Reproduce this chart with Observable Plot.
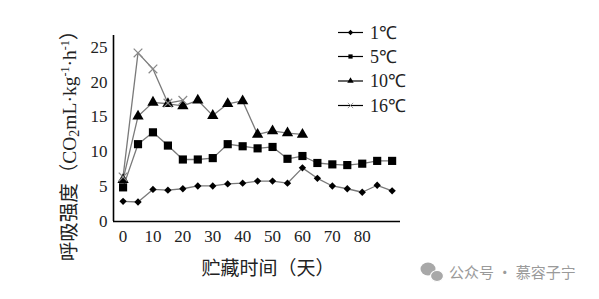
<!DOCTYPE html>
<html>
<head>
<meta charset="utf-8">
<script src="https://cdn.jsdelivr.net/npm/d3@7"></script>
<script src="https://cdn.jsdelivr.net/npm/@observablehq/plot@0.6"></script>
<style>
  html, body { margin: 0; padding: 0; background: #fff; }
</style>
</head>
<body>
<div id="chart"></div>
<script>
const days = [0, 5, 10, 15, 20, 25, 30, 35, 40, 45, 50, 55, 60, 65, 70, 75, 80, 85, 90];
const t1 = [2.9, 2.8, 4.6, 4.5, 4.7, 5.1, 5.1, 5.4, 5.5, 5.8, 5.8, 5.5, 7.7, 6.2, 5.1, 4.7, 4.2, 5.2, 4.4];
const t5 = [4.9, 11.1, 12.8, 10.9, 8.9, 8.9, 9.1, 11.1, 10.8, 10.5, 10.7, 9.0, 9.4, 8.4, 8.2, 8.1, 8.3, 8.7, 8.7];
const t10 = [6.0, 15.1, 17.1, 16.9, 16.6, 17.4, 15.2, 16.9, 17.3, 12.5, 13.0, 12.7, 12.5];
const t16 = [6.4, 24.2, 21.9, 17.0, 17.4];
const seriesNames = ["1℃", "5℃", "10℃", "16℃"];
const xTicks = [0, 10, 20, 30, 40, 50, 60, 70, 80];
const yTicks = [0, 5, 10, 15, 20, 25];

const seriesVals = [t1, t5, t10, t16];
const symbols = ["diamond2", "square", "triangle", "times"];
const radii = [3.3, 4.6, 4.2, 4];
const fills = ["#000", "#000", "#000", "none"];
const strokes = ["none", "none", "none", "#888"];

const rows = [];
seriesVals.forEach((vals, si) => {
  vals.forEach((v, i) => rows.push({ s: seriesNames[si], si, day: days[i], v }));
});

const dotMarks = seriesNames.map((name, si) =>
  Plot.dot(rows.filter(d => d.si === si), {
    x: "day", y: "v", symbol: () => symbols[si], r: radii[si],
    fill: fills[si], stroke: strokes[si], strokeWidth: 1.2
  })
);

const serif = "'Liberation Serif', 'Times New Roman', serif";
const cjk = "'Noto Sans CJK SC', sans-serif";

const svg = Plot.plot({
  width: 599,
  height: 299,
  marginLeft: 113,
  marginRight: 199,
  marginTop: 35,
  marginBottom: 78,
  style: { fontFamily: serif, fontSize: "17px", color: "#222", background: "#fff", overflow: "visible" },
  x: { domain: [-3.2, 92.8] },
  y: { domain: [0, 26.7] },
  symbol: { type: "identity" },
  marks: [
    Plot.axisX({ ticks: xTicks, tickSize: 0, tickPadding: 8, label: null, fontSize: 17 }),
    Plot.axisY({ ticks: yTicks, tickSize: 0, tickPadding: 6, label: null, fontSize: 17 }),
    Plot.ruleY([0], { stroke: "#000", strokeWidth: 1.6 }),
    Plot.ruleX([-3.2], { stroke: "#000", strokeWidth: 1.6 }),
    Plot.line(rows, { x: "day", y: "v", z: "s", stroke: "#7a7a7a", strokeWidth: 1.3 }),
    ...dotMarks
  ]
});

document.getElementById("chart").appendChild(svg);
const s = d3.select(svg);

// Legend
const legY = [32.5, 56.5, 81, 105.5];
const leg = s.append("g");
seriesNames.forEach((name, i) => {
  const g = leg.append("g").attr("transform", `translate(0,${legY[i]})`);
  g.append("line").attr("x1", 338).attr("x2", 363).attr("y1", 0).attr("y2", 0)
    .attr("stroke", "#000").attr("stroke-width", 1.2);
  const sym = d3.symbol().type([d3.symbolDiamond2, d3.symbolSquare, d3.symbolTriangle, d3.symbolTimes][i]).size(i === 3 ? 20 : 18)();
  g.append("path").attr("d", sym).attr("transform", "translate(350.5,0)")
    .attr("fill", i === 3 ? "none" : "#000").attr("stroke", i === 3 ? "#999" : "none");
  g.append("text").attr("x", 370).attr("y", 0).attr("dy", "0.35em")
    .attr("text-anchor", "start")
    .attr("font-family", serif).attr("font-size", 18).attr("fill", "#222").text(name);
});

// Y axis label
const yl = s.append("text")
  .attr("transform", "translate(68.5,141) rotate(-90)")
  .attr("text-anchor", "middle").attr("dy", "0.36em")
  .attr("fill", "#222").attr("font-size", 19.5);
yl.append("tspan").attr("font-family", cjk).text("呼吸强度（");
yl.append("tspan").attr("font-family", serif).text("CO");
yl.append("tspan").attr("font-family", serif).attr("font-size", 14).attr("dy", 3).text("2");
yl.append("tspan").attr("font-family", serif).attr("dy", -3).text("mL·kg");
yl.append("tspan").attr("font-family", serif).attr("font-size", 12).attr("dy", -7).text("-1");
yl.append("tspan").attr("font-family", serif).attr("dy", 7).text("·h");
yl.append("tspan").attr("font-family", serif).attr("font-size", 12).attr("dy", -7).text("-1");
yl.append("tspan").attr("font-family", cjk).attr("dy", 7).text("）");

// X axis label
s.append("text").attr("x", 268).attr("y", 268).attr("dy", "0.36em")
  .attr("text-anchor", "middle").attr("font-family", cjk).attr("font-size", 19)
  .attr("fill", "#222").text("贮藏时间（天）");

// Watermark
const wm = s.append("g").attr("fill", "#a8a8a8");
wm.append("ellipse").attr("cx", 428).attr("cy", 269).attr("rx", 7.5).attr("ry", 6.5);
wm.append("ellipse").attr("cx", 437).attr("cy", 276).attr("rx", 6.5).attr("ry", 5.5).attr("stroke", "#fff").attr("stroke-width", 1.2);
s.append("text").attr("x", 449).attr("y", 272.5).attr("dy", "0.36em")
  .attr("text-anchor", "start")
  .attr("font-family", cjk).attr("font-size", 15).attr("fill", "#9a9a9a")
  .text("公众号 · 慕容子宁");
</script>
</body>
</html>
